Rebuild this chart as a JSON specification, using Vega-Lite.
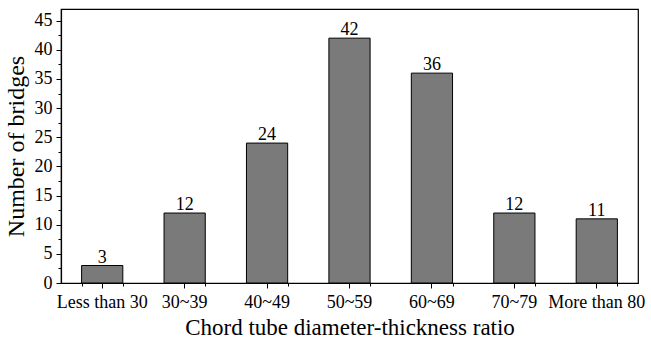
{
  "$schema": "https://vega.github.io/schema/vega-lite/v6.json",
  "width": 577,
  "height": 274,
  "autosize": {"type": "none"},
  "padding": {"left": 61, "top": 9, "right": 13, "bottom": 62},
  "config": {
    "font": "Liberation Serif",
    "view": {"stroke": "#000", "strokeWidth": 1.2},
    "axis": {
      "domainColor": "#000", "domainWidth": 1.2, "tickColor": "#000", "tickWidth": 1, "labelColor": "#000", "titleColor": "#000",
      "grid": false, "labelFontSize": 18, "titleFontSize": 23, "titleFontWeight": "normal",
      "labelFont": "Liberation Serif", "titleFont": "Liberation Serif"
    }
  },
  "data": {"values": [
    {"ratio": "Less than 30", "count": 3},
    {"ratio": "30~39", "count": 12},
    {"ratio": "40~49", "count": 24},
    {"ratio": "50~59", "count": 42},
    {"ratio": "60~69", "count": 36},
    {"ratio": "70~79", "count": 12},
    {"ratio": "More than 80", "count": 11}
  ]},
  "encoding": {
    "y": {"field": "count", "type": "quantitative",
      "scale": {"domain": [0, 47], "nice": false, "zero": true},
      "axis": {"values": [0, 2.5, 5, 7.5, 10, 12.5, 15, 17.5, 20, 22.5, 25, 27.5, 30, 32.5, 35, 37.5, 40, 42.5, 45],
        "labelExpr": "datum.value % 5 === 0 ? datum.label : ''",
        "labelOverlap": false, "labelPadding": 4,
        "tickSize": {"condition": {"test": "datum.value % 5 !== 0", "value": 3}, "value": 5},
        "title": "Number of bridges", "titlePadding": 6, "titleFontSize": 24}}
  },
  "layer": [
    {
      "mark": {"type": "bar", "fill": "#7a7a7a", "stroke": "#000", "strokeWidth": 1},
      "encoding": {
        "x": {"field": "ratio", "type": "nominal", "sort": null,
          "scale": {"paddingInner": 0.5, "paddingOuter": 0.25},
          "axis": {"labelAngle": 0, "tickSize": 5, "labelPadding": 5, "title": "Chord tube diameter-thickness ratio", "titlePadding": 5}}
      }
    },
    {
      "mark": {"type": "text", "dy": -3, "baseline": "alphabetic", "fontSize": 18, "color": "#000", "font": "Liberation Serif"},
      "encoding": {
        "x": {"field": "ratio", "type": "nominal", "sort": null,
          "axis": {"tickBand": "extent", "labels": false, "domain": false, "title": null, "tickSize": 3, "orient": "bottom"}},
        "text": {"field": "count", "type": "quantitative"}
      }
    }
  ],
  "resolve": {"axis": {"x": "independent"}}
}
